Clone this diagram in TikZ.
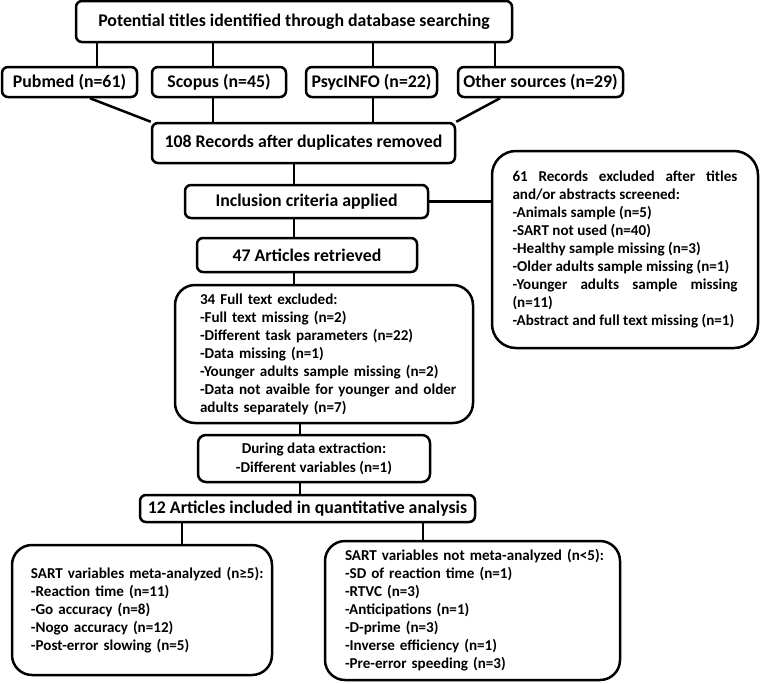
\documentclass[tikz,border=0pt]{standalone}
\usepackage{fontspec}
\setmainfont{Carlito}
\usetikzlibrary{positioning}

\begin{document}
\begin{tikzpicture}[
    x=1pt, y=-1pt,
    box/.style={draw, line width=2.5pt, rounded corners=6pt, inner sep=0pt, align=center, font=\bfseries\fontsize{17.8}{20}\selectfont},
    listbox/.style={draw, line width=2.5pt, rounded corners=20pt, inner sep=0pt, align=left, font=\bfseries\fontsize{15.1}{18}\selectfont},
    padl/.style={execute at begin node={\leftskip=#1\relax}},
    link/.style={line width=2.5pt}
]
    \useasboundingbox (0,0) rectangle (762,683);

    % Nodes
    \node[box, minimum width=436pt, minimum height=41pt] (search) at (294,21.5) {Potential titles identified through database searching};
    \node[box, minimum width=135pt, minimum height=30pt] (pubmed) at (69.5,82) {Pubmed (n=61)};
    \node[box, minimum width=134pt, minimum height=30pt] (scopus) at (219,82) {Scopus (n=45)};
    \node[box, minimum width=131pt, minimum height=30pt] (psyc) at (371.5,82) {PsycINFO (n=22)};
    \node[box, minimum width=165pt, minimum height=30pt] (other) at (540.5,82) {Other sources (n=29)};
    \node[box, minimum width=303pt, minimum height=40pt] (rec108) at (303.5,143) {108 Records after duplicates removed};
    \node[box, minimum width=243pt, minimum height=33pt] (incl) at (306.5,201.5) {Inclusion criteria applied};
    \node[box, minimum width=220pt, minimum height=34pt] (art47) at (307,255) {47 Articles retrieved};
    \node[listbox, align=justify, text width=225pt, minimum width=266pt, minimum height=197pt, rounded corners=24pt] (excl61) at (625,249.5) {61 Records excluded after titles\linebreak and/or abstracts screened:\\
        -Animals sample (n=5)\\
        -SART not used (n=40)\\
        -Healthy sample missing (n=3)\\
        -Older adults sample missing (n=1)\\
        -Younger adults sample missing\linebreak (n=11)\\
        -Abstract and full text missing (n=1)};
    \node[listbox, padl=20pt, text width=288pt, minimum width=298pt, minimum height=138pt] (full34) at (324,354) {34 Full text excluded:\\
        -Full text missing (n=2)\\
        -Different task parameters (n=22)\\
        -Data missing (n=1)\\
        -Younger adults sample missing (n=2)\\
        -Data not avaible for younger and older\\
        adults separately (n=7)};
    \node[box, rounded corners=8pt, font=\bfseries\fontsize{15.1}{19}\selectfont, minimum width=232pt, minimum height=47pt] (extract) at (314,458.5) {During data extraction:\\-Different variables (n=1)};
    \node[box, minimum width=335pt, minimum height=27pt] (art12) at (307.5,508.5) {12 Articles included in quantitative analysis};
    \node[listbox, padl=17pt, text width=256pt, minimum width=260pt, minimum height=130pt] (meta) at (142,610) {SART variables meta-analyzed (n≥5):\\
        -Reaction time (n=11)\\
        -Go accuracy (n=8)\\
        -Nogo accuracy (n=12)\\
        -Post-error slowing (n=5)};
    \node[listbox, padl=15pt, text width=285pt, minimum width=295pt, minimum height=139pt] (notmeta) at (472.5,610.5) {SART variables not meta-analyzed (n<5):\\
        -SD of reaction time (n=1)\\
        -RTVC (n=3)\\
        -Anticipations (n=1)\\
        -D-prime (n=3)\\
        -Inverse efficiency (n=1)\\
        -Pre-error speeding (n=3)};

    % Connectors
    \coordinate (spine) at (294,0);
    \coordinate (spine2) at (300,0);
    \foreach \x/\src in {97/pubmed, 213/scopus, 373/psyc, 495/other} {
        \coordinate (drop) at (\x,0);
        \draw[link] (search.south -| drop) -- (\src.north -| drop);
    }
    \foreach \x/\src in {213/scopus, 373/psyc} {
        \coordinate (drop) at (\x,0);
        \draw[link] (\src.south -| drop) -- (rec108.north -| drop);
    }
    \draw[link] ([xshift=20.5pt]pubmed.south) -- (rec108.north west);
    \draw[link] ([xshift=-40.5pt]other.south) -- (rec108.north east);
    \draw[link] (rec108.south -| spine) -- (incl.north -| spine);
    \draw[link] (incl.east) -- (incl.east -| excl61.west);
    \draw[link] (incl.south -| spine) -- (art47.north -| spine);
    \draw[link] (art47.south -| spine) -- (full34.north -| spine);
    \draw[link] (full34.south -| spine2) -- (extract.north -| spine2);
    \draw[link] (extract.south -| spine2) -- (art12.north -| spine2);
    \coordinate (lft) at (182,0);
    \coordinate (rgt) at (423,0);
    \draw[link] (art12.south -| lft) -- (meta.north -| lft);
    \draw[link] (art12.south -| rgt) -- (notmeta.north -| rgt);
\end{tikzpicture}
\end{document}
